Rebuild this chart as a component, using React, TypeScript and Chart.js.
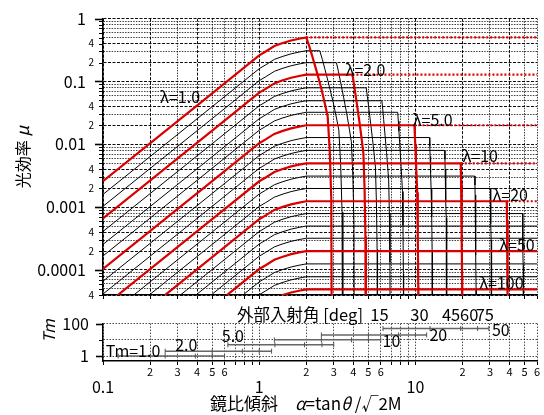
import React, { useEffect, useRef } from 'react';
import { Chart, registerables } from 'chart.js';

Chart.register(...registerables);

const FONT = '"Noto Sans CJK JP", "Noto Sans", sans-serif';
const RED = 'rgb(218,0,0)';
Chart.defaults.font.family = FONT;
Chart.defaults.color = '#000';

// ---------------- main chart data ----------------
const lambdas = [1.0, 1.26, 1.58, 2.0, 2.51, 3.16, 3.98, 5.0, 6.31, 7.94, 10, 12.6, 15.8, 20, 25.1, 31.6, 39.8, 50, 63.1, 79.4, 100];
const redLambdas = [1, 2, 5, 10, 20, 50, 100];
// plateau level of each curve
const plateauMu = [0.502, 0.308, 0.199, 0.128, 0.0792, 0.0493, 0.0323, 0.0201, 0.0128, 0.008, 0.00498, 0.00312, 0.00198, 0.00124, 0.00079, 0.0005, 0.00032, 0.0002, 0.000125, 0.000078, 0.000049];
// alpha where the plateau ends
const plateauEndAlpha = [2.0, 2.44, 3.12, 3.95, 4.84, 6.1, 7.7, 9.85, 12.3, 15.4, 19.5, 24.0, 30.2, 38.4, 48.5, 61, 77, 97, 122, 154, 194];
// alpha where the curve falls to the bottom
const cutoffAlpha = [2.93, 3.43, 4.08, 4.82, 5.72, 6.9, 8.4, 10.45, 12.85, 15.9, 19.95, 24.5, 30.8, 39.2, 49.3, 62, 78, 98, 123, 155, 195];
// rising part shape (read on the λ=1.0 curve, relative to its plateau)
const riseAlpha = [0.1, 0.5, 1.0, 1.1, 1.25, 1.4, 1.6, 1.8, 2.0];
const riseRatio = [0.00518, 0.129, 0.518, 0.596, 0.728, 0.807, 0.893, 0.953, 1.0];
// falling part shape (read on the λ=1.0 curve): fraction of the fall span, relative level
const dropFrac = [0, 0.1, 0.2, 0.37, 0.54, 0.69, 0.8, 0.89, 0.96, 1.0];
const dropRatio = [1, 0.72, 0.501, 0.275, 0.151, 0.0851, 0.055, 0.0158, 0.00269, 1e-7];

const lambdaLabels = ['λ=1.0', 'λ=2.0', 'λ=5.0', 'λ=10', 'λ=20', 'λ=50', 'λ=100'];
const lambdaLabelAlpha = [0.232, 3.57, 9.61, 20.0, 31.1, 34.4, 25.6];
const lambdaLabelMu = [0.0569, 0.152, 0.0242, 0.00645, 0.00155, 2.46e-4, 6.2e-5];

// ---------------- Tm chart data ----------------
const tmValues = [1, 2, 5, 10, 20, 50];
const tmTicks = [
  [0.125, 0.25, 0.39, 0.5, 0.6],
  [0.25, 0.5, 0.78, 1.0, 1.2],
  [0.63, 1.26, 1.95, 2.52, 3.0],
  [1.25, 2.5, 3.9, 5.0, 6.0],
  [2.5, 5.0, 7.8, 10, 11.8],
  [6.2, 12.4, 19.5, 25, 29.5],
];
const tmLabelText = ['Tm=1.0', '2.0', '5.0', '10', '20', '50'];
const tmLabelAlpha = [0.104, 0.29, 0.576, 6.16, 12.3, 30.9];
const tmLabelValue = [2.06, 5.0, 17.7, 8.2, 20, 42.7];

const angleTitle = '外部入射角 [deg]';
const angleTitleAlpha = 0.72;
const angleLabels = ['15', '30', '45', '60', '75'];
const angleAlpha = [5.89, 10.6, 16.9, 22.1, 27.8];

// ---------------- axis ticks ----------------
const X_MIN = 0.1, X_MAX = 60;
const Y_MIN = 4e-5, Y_MAX = 1;
const TM_MIN = 0.5, TM_MAX = 100;
const tmTickValues = [1, 10, 100];
const xMinorLabelMantissas = [2, 3, 4, 5, 6];
const yMinorLabelMantissas = [2, 4];

function decadeValues(eFrom: number, eTo: number, lo: number, hi: number) {
  const out: number[] = [];
  for (let e = eFrom; e <= eTo; e++) {
    for (let m = 1; m <= 9; m++) {
      const v = e < 0 ? m / Math.pow(10, -e) : m * Math.pow(10, e);
      if (v >= lo * (1 - 1e-9) && v <= hi * (1 + 1e-9)) out.push(v);
    }
  }
  return out;
}
const xGridValues = decadeValues(-1, 1, X_MIN, X_MAX);
const yGridValues = decadeValues(-5, 0, Y_MIN, Y_MAX);

function expOf(v: number) {
  return Math.floor(Math.log10(v) + 1e-9);
}
function mant(v: number) {
  return Math.round(v / Math.pow(10, expOf(v)));
}
function fmtDecade(v: number) {
  const e = expOf(v);
  return e < 0 ? v.toFixed(-e) : String(Math.round(v));
}

function buildCurve(i: number) {
  const p = plateauMu[i];
  const s = plateauEndAlpha[i];
  const e = cutoffAlpha[i];
  const pts = riseAlpha.map((a, k) => ({ x: a, y: p * riseRatio[k] }));
  if (s > riseAlpha[riseAlpha.length - 1]) pts.push({ x: s, y: p });
  dropFrac.forEach((t, k) => {
    if (k === 0) return;
    pts.push({ x: s + t * (e - s), y: p * dropRatio[k] });
  });
  return pts;
}

function strong(v?: number) {
  if (v === undefined) return false;
  const m = mant(v);
  return m === 1 || m === 2 || m === 4;
}
function gridColor(v?: number) {
  if (v === undefined) return '#000';
  return strong(v) ? 'rgba(0,0,0,0.95)' : 'rgba(0,0,0,0.75)';
}
function gridDash(v?: number) {
  if (v === undefined) return [];
  return strong(v) ? [3, 1.5] : [1.5, 1.2];
}

function drawRotated(ctx: CanvasRenderingContext2D, parts: { t: string; f: string }[], cx: number, cy: number) {
  ctx.save();
  ctx.translate(cx, cy);
  ctx.rotate(-Math.PI / 2);
  let total = 0;
  parts.forEach((p) => { ctx.font = p.f; total += ctx.measureText(p.t).width; });
  let x = -total / 2;
  ctx.textBaseline = 'middle';
  ctx.textAlign = 'left';
  parts.forEach((p) => { ctx.font = p.f; ctx.fillText(p.t, x, 0); x += ctx.measureText(p.t).width; });
  ctx.restore();
}

const mainPlugin = {
  id: 'mainDecor',
  afterDatasetsDraw(chart: any) {
    const { ctx, scales } = chart;
    const x = scales.x, y = scales.y;
    ctx.save();
    ctx.fillStyle = '#000';
    ctx.font = `16px ${FONT}`;
    ctx.textBaseline = 'middle';
    ctx.textAlign = 'left';
    lambdaLabels.forEach((t, i) => {
      ctx.fillText(t, x.getPixelForValue(lambdaLabelAlpha[i]), y.getPixelForValue(lambdaLabelMu[i]));
    });
    ctx.restore();
  },
  afterDraw(chart: any) {
    const { ctx, scales } = chart;
    const y = scales.y;
    ctx.save();
    ctx.strokeStyle = '#000';
    y.ticks.forEach((t: any) => {
      const m = mant(t.value);
      const len = m === 1 ? 8 : 4;
      ctx.lineWidth = m === 1 ? 1.6 : 1;
      const py = Math.round(y.getPixelForValue(t.value)) + 0.5;
      ctx.beginPath();
      ctx.moveTo(y.right - len, py);
      ctx.lineTo(y.right, py);
      ctx.stroke();
    });
    ctx.fillStyle = '#000';
    drawRotated(ctx, [{ t: '光効率 ', f: `16px ${FONT}` }, { t: 'μ', f: `italic 17px ${FONT}` }], 23, 157);
    ctx.restore();
  },
};

const tmPlugin = {
  id: 'tmDecor',
  afterDatasetsDraw(chart: any) {
    const { ctx, scales } = chart;
    const x = scales.x, y = scales.y;
    ctx.save();
    ctx.fillStyle = '#000';
    ctx.font = `16px ${FONT}`;
    ctx.textBaseline = 'middle';
    ctx.textAlign = 'left';
    tmLabelText.forEach((t, i) => {
      ctx.fillText(t, x.getPixelForValue(tmLabelAlpha[i]), y.getPixelForValue(tmLabelValue[i]));
    });
    ctx.restore();
  },
  afterDraw(chart: any) {
    const { ctx, scales, chartArea } = chart;
    const x = scales.x, y = scales.y;
    ctx.save();
    ctx.fillStyle = '#000';
    ctx.textBaseline = 'middle';
    // angle labels above the Tm plot
    const ay = chartArea.top - 8.5;
    ctx.font = `16.5px ${FONT}`;
    ctx.textAlign = 'left';
    ctx.fillText(angleTitle, x.getPixelForValue(angleTitleAlpha), ay);
    ctx.textAlign = 'center';
    angleLabels.forEach((t, i) => ctx.fillText(t, x.getPixelForValue(angleAlpha[i]), ay));
    // y ticks
    ctx.strokeStyle = '#000';
    y.ticks.forEach((t: any) => {
      const len = t.value === 10 ? 4 : 7;
      ctx.lineWidth = t.value === 10 ? 1 : 1.6;
      const py = Math.round(y.getPixelForValue(t.value)) + 0.5;
      ctx.beginPath();
      ctx.moveTo(y.right - len, py);
      ctx.lineTo(y.right, py);
      ctx.stroke();
    });
    // y title
    drawRotated(ctx, [{ t: 'Tm', f: `italic 16px ${FONT}` }], 49, 31);
    // x title
    const ty = 104;
    let tx = 210;
    const parts = [
      { t: '鏡比傾斜', f: `17px ${FONT}` },
      { t: '　', f: `17px ${FONT}` },
      { t: 'α', f: `italic 17px ${FONT}` },
      { t: '=tan', f: `17px ${FONT}` },
      { t: 'θ', f: `italic 17px ${FONT}` },
      { t: ' /√2M', f: `17px ${FONT}` },
    ];
    ctx.textAlign = 'left';
    parts.forEach((p) => { ctx.font = p.f; ctx.fillText(p.t, tx, ty); tx += ctx.measureText(p.t).width; });
    ctx.restore();
  },
};

export default function App() {
  const ref1 = useRef<HTMLCanvasElement>(null);
  const ref2 = useRef<HTMLCanvasElement>(null);

  useEffect(() => {
    const datasets: any[] = [];
    lambdas.forEach((lam, i) => {
      const red = redLambdas.includes(lam);
      datasets.push({
        data: buildCurve(i),
        showLine: true,
        borderColor: red ? RED : '#000',
        borderWidth: red ? 2.2 : 1,
        pointRadius: 0,
        order: red ? 0 : 1,
      });
      if (red && plateauEndAlpha[i] < X_MAX) {
        datasets.push({
          data: [{ x: plateauEndAlpha[i], y: plateauMu[i] }, { x: X_MAX, y: plateauMu[i] }],
          showLine: true,
          borderColor: RED,
          borderWidth: 2.2,
          borderDash: [2, 2],
          pointRadius: 0,
          order: 0,
        });
      }
    });

    const c1 = new Chart(ref1.current!, {
      type: 'scatter',
      data: { datasets },
      options: {
        animation: false,
        responsive: false,
        events: [],
        layout: { padding: { left: 0, right: 7, top: 15, bottom: 0 } },
        plugins: { legend: { display: false }, tooltip: { enabled: false } },
        scales: {
          x: {
            type: 'logarithmic',
            min: X_MIN,
            max: X_MAX,
            bounds: 'data',
            afterBuildTicks: (s: any) => { s.ticks = xGridValues.map((v) => ({ value: v })); },
            afterFit: (s: any) => { s.height = 11.5; },
            ticks: { display: false, autoSkip: false },
            grid: {
              color: (c: any) => gridColor(c.tick?.value),
              lineWidth: 1,
              drawTicks: true,
              tickLength: 4,
              tickColor: '#000',
            },
            border: { display: true, color: '#000', width: 1.5, dash: (c: any) => gridDash(c.tick?.value) },
          },
          y: {
            type: 'logarithmic',
            min: Y_MIN,
            max: Y_MAX,
            bounds: 'data',
            afterBuildTicks: (s: any) => { s.ticks = yGridValues.map((v) => ({ value: v })); },
            afterFit: (s: any) => { s.width = 103; },
            ticks: {
              autoSkip: false,
              padding: 9,
              color: '#000',
              callback: (v: any) => {
                const m = mant(v);
                if (m === 1) return fmtDecade(v) + '\u2002';
                if (yMinorLabelMantissas.includes(m)) return String(m);
                return '';
              },
              font: (c: any) => {
                if (!c.tick) return { size: 16, family: FONT };
                return mant(c.tick.value) === 1 ? { size: 16, family: FONT } : { size: 10, family: FONT };
              },
            },
            grid: { color: (c: any) => gridColor(c.tick?.value), lineWidth: 1, drawTicks: false },
            border: { display: true, color: '#000', width: 1.5, dash: (c: any) => gridDash(c.tick?.value) },
          },
        },
      } as any,
      plugins: [mainPlugin],
    });

    const tmSets = tmValues.map((v, i) => ({
      data: tmTicks[i].map((a) => ({ x: a, y: v })),
      showLine: true,
      borderColor: '#666',
      borderWidth: 1.5,
      pointStyle: 'line',
      pointRadius: 2.5,
      pointRotation: 90,
      pointBorderColor: '#555',
      pointBackgroundColor: '#555',
      pointBorderWidth: 1,
    }));

    const c2 = new Chart(ref2.current!, {
      type: 'scatter',
      data: { datasets: tmSets },
      options: {
        animation: false,
        responsive: false,
        events: [],
        layout: { padding: { left: 0, right: 7, top: 19.5, bottom: 0 } },
        plugins: { legend: { display: false }, tooltip: { enabled: false } },
        scales: {
          x: {
            type: 'logarithmic',
            min: X_MIN,
            max: X_MAX,
            bounds: 'data',
            afterBuildTicks: (s: any) => { s.ticks = xGridValues.map((v) => ({ value: v })); },
            afterFit: (s: any) => { s.height = 54; },
            ticks: {
              autoSkip: false,
              maxRotation: 0,
              minRotation: 0,
              padding: 0,
              color: '#000',
              callback: (v: any) => {
                const m = mant(v);
                if (m === 1) return ['', fmtDecade(v)];
                if (xMinorLabelMantissas.includes(m)) return String(m);
                return '';
              },
              font: (c: any) => {
                if (!c.tick) return { size: 11, family: FONT, lineHeight: 1.2 };
                return mant(c.tick.value) === 1
                  ? { size: 16, family: FONT, lineHeight: 0.93 }
                  : { size: 11, family: FONT, lineHeight: 1.2 };
              },
            },
            grid: { color: 'rgba(0,0,0,0.7)', lineWidth: 1, drawTicks: true, tickLength: 4, tickColor: '#000' },
            border: { display: true, color: '#000', width: 1.5, dash: (c: any) => (c.tick ? [1.5, 1.5] : []) },
          },
          y: {
            type: 'logarithmic',
            min: TM_MIN,
            max: TM_MAX,
            bounds: 'data',
            afterBuildTicks: (s: any) => { s.ticks = tmTickValues.map((v) => ({ value: v })); },
            afterFit: (s: any) => { s.width = 103; },
            ticks: {
              autoSkip: false,
              padding: 14,
              color: '#000',
              font: { size: 16, family: FONT },
              callback: (v: any) => (v === 10 ? '' : String(v)),
            },
            grid: { color: 'rgba(0,0,0,0.7)', lineWidth: 1, drawTicks: false },
            border: { display: true, color: '#000', width: 1.5, dash: (c: any) => (c.tick ? [1.5, 1.5] : []) },
          },
        },
      } as any,
      plugins: [tmPlugin],
    });

    return () => {
      c1.destroy();
      c2.destroy();
    };
  }, []);

  return (
    <div style={{ position: 'fixed', left: 0, top: 0, width: 544, height: 415, background: '#fff' }}>
      <canvas ref={ref1} width={544} height={310} style={{ position: 'absolute', left: 0, top: 0, width: 544, height: 310 }} />
      <canvas ref={ref2} width={544} height={115} style={{ position: 'absolute', left: 0, top: 300, width: 544, height: 115 }} />
    </div>
  );
}
